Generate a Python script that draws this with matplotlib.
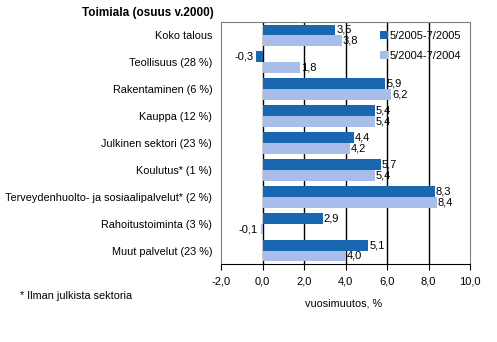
import matplotlib.pyplot as plt
import numpy as np

plt.rcParams['font.family'] = ['Liberation Sans', 'DejaVu Sans']

categories = ['Koko talous', 'Teollisuus (28 %)', 'Rakentaminen (6 %)', 'Kauppa (12 %)',
              'Julkinen sektori (23 %)', 'Koulutus* (1 %)',
              'Terveydenhuolto- ja sosiaalipalvelut* (2 %)', 'Rahoitustoiminta (3 %)',
              'Muut palvelut (23 %)']
s2005 = [3.5, -0.3, 5.9, 5.4, 4.4, 5.7, 8.3, 2.9, 5.1]
s2004 = [3.8, 1.8, 6.2, 5.4, 4.2, 5.4, 8.4, -0.1, 4.0]
labels = ['5/2005-7/2005', '5/2004-7/2004']
xticks = [-2, 0, 2, 4, 6, 8, 10]

dark = '#1a67b1'
light = '#a8bdea'
fs = 7.8

fig = plt.figure(figsize=(4.97, 3.42), dpi=100)
ax = fig.add_axes([0.445, 0.228, 0.501, 0.708])

y = np.arange(len(categories))
h = 0.4
b1 = ax.barh(y - h / 2, s2005, height=h, color=dark, label=labels[0], zorder=3)
b2 = ax.barh(y + h / 2, s2004, height=h, color=light, label=labels[1], zorder=3)

def fmt(v):
    return ('%.1f' % v).replace('.', ',')

for bars, vals in [(b1, s2005), (b2, s2004)]:
    for b, v in zip(bars, vals):
        yc = b.get_y() + b.get_height() / 2
        if v >= 0:
            ax.text(v + 0.05, yc, fmt(v), va='center', ha='left', fontsize=8, zorder=4)
        else:
            ax.text(v - 0.15, yc, fmt(v), va='center', ha='right', fontsize=8, zorder=4)

ax.set_xlim(-2, 10)
ax.set_ylim(len(categories) - 0.5, -0.5)
ax.set_xticks(xticks)
ax.set_xticklabels([fmt(t) for t in xticks], fontsize=8)
ax.set_yticks(y)
ax.set_yticklabels(categories, fontsize=fs)
ax.tick_params(axis='y', length=0, pad=6.5)
ax.tick_params(axis='x', direction='out', length=4, color='black', pad=5)
for t in [0, 2, 4, 6, 8]:
    ax.axvline(t, color='black', lw=1, zorder=2)
for s in ['left', 'right', 'top']:
    ax.spines[s].set_color('#808080')
ax.spines['bottom'].set_color('black')

ax.legend(loc='upper right', frameon=False, fontsize=8, handlelength=0.7,
          handleheight=0.7, handletextpad=0.2, borderaxespad=0.4, labelspacing=0.9)

fig.text(0.165, 0.952, 'Toimiala (osuus v.2000)', fontsize=8.5, fontweight='bold')
fig.text(0.692, 0.105, 'vuosimuutos, %', fontsize=fs, ha='center')
fig.text(0.04, 0.125, '* Ilman julkista sektoria', fontsize=fs)

fig.savefig('out.png', dpi=100)
